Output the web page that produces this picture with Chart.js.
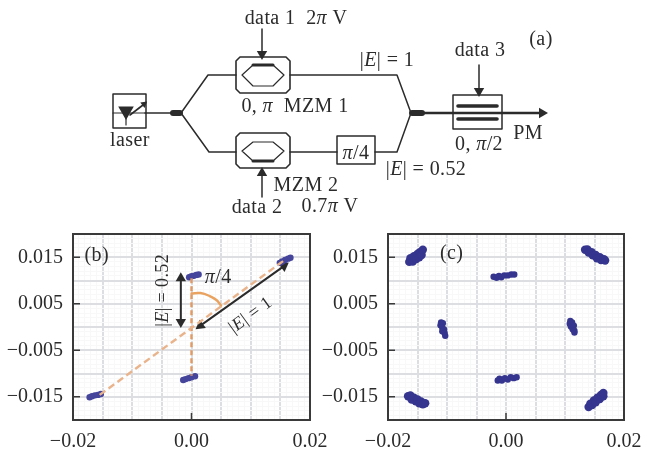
<!DOCTYPE html>
<html>
<head>
<meta charset="utf-8">
<script src="https://cdn.jsdelivr.net/npm/chart.js@4"></script>
<style>
  html, body { margin: 0; background: #fff; }
  canvas { position: absolute; filter: blur(0.55px); }
  #js-schematic { left: 0; top: 0; }
  #js-panel-b { left: 0; top: 225px; }
  #js-panel-c { left: 320px; top: 225px; }
</style>
</head>
<body>
<canvas id="js-schematic" width="647" height="225"></canvas>
<canvas id="js-panel-b" width="330" height="227"></canvas>
<canvas id="js-panel-c" width="327" height="227"></canvas>
<script>
// Tick labels
const xTickValues = [-0.02, 0, 0.02];
const xTickLabels = ['\u22120.02', '0.00', '0.02'];
const yTickValues = [-0.015, -0.005, 0.005, 0.015];
const yTickLabels = ['\u22120.015', '\u22120.005', '0.005', '0.015'];

// Constellation (b)
const panelBPoints = [
  [-.0172,-.0151],[-.0168,-.0149],[-.0163,-.0147],[-.0158,-.0146],[-.0153,-.0144],
  [-.0014,-.0114],[-.0010,-.0112],[-.0005,-.0110],[.0000,-.0108],[.0006,-.0106],
  [-.0004,.0107],[.0000,.0109],[.0004,.0110],[.0008,.0112],[.0012,.0113],
  [.0149,.0138],[.0153,.0141],[.0158,.0144],[.0163,.0147],[.0167,.0149]
];
const diagonalGuide = [[-.0155,-.0146],[.0155,.0142]];
const verticalGuide = [[0,.0105],[0,-.0105]];
const angleArc = [[0,.0072],[.0015,.0073],[.003,.0067],[.0042,.0058],[.005,.0046]];
const amplitudeArrow = [[-.0018,.0105],[-.0018,.0011]];
const unitArrow = [[.0015,.0003],[.0156,.0131]];

// Constellation (c), the four corner groups are the larger ones
const panelCCorners = [
  [-.0164,.0140],[-.0162,.0148],[-.0158,.0141],[-.0156,.0152],[-.0152,.0146],[-.0150,.0157],
  [-.0147,.0150],[-.0146,.0161],[-.0143,.0155],[-.0141,.0166],
  [.0134,.0166],[.0138,.0167],[.0140,.0160],[.0145,.0161],[.0147,.0154],[.0152,.0155],
  [.0154,.0148],[.0159,.0150],[.0161,.0144],[.0166,.0146],[.0168,.0143],
  [-.0166,-.0149],[-.0162,-.0147],[-.0160,-.0156],[-.0156,-.0152],[-.0153,-.0160],[-.0150,-.0156],
  [-.0147,-.0164],[-.0144,-.0160],[-.0141,-.0166],[-.0137,-.0164],
  [.0140,-.0172],[.0143,-.0165],[.0146,-.0168],[.0149,-.0158],[.0152,-.0162],[.0155,-.0152],
  [.0159,-.0155],[.0161,-.0146],[.0165,-.0149],[.0165,-.0142]
];
const panelCInner = [
  [-.0021,.0108],[-.0016,.0106],[-.0012,.0110],[-.0008,.0107],[-.0003,.0111],[.0003,.0111],[.0009,.0113],[.0014,.0113],
  [-.0110,.0010],[-.0111,.0004],[-.0107,.0008],[-.0108,-.0001],[-.0105,-.0005],[-.0108,-.0009],[-.0104,-.0013],[-.0103,-.0019],
  [.0109,.0013],[.0108,.0007],[.0112,.0010],[.0110,.0001],[.0115,.0003],[.0113,-.0005],[.0116,-.0008],[.0116,-.0012],
  [-.0014,-.0115],[-.0011,-.0111],[-.0007,-.0115],[-.0002,-.0110],[.0003,-.0113],[.0008,-.0108],[.0013,-.0110],[.0018,-.0108]
];

// Schematic, in diagram units
const inputFibre = [[145,113],[172,113]];
const upperArmIn = [[181,113],[208,75],[236,75]];
const lowerArmIn = [[181,113],[209,152],[236,152]];
const upperArmOut = [[290,75],[397,75],[411,113]];
const lowerArmOut = [[290,152],[337,152]];
const phaseArmOut = [[375,152],[397,152],[411,113]];
const outputFibre = [[422,113],[540,113]];
const couplerIn = [[173,113],[180,113]];
const couplerOut = [[412,113],[422,113]];
const mzmUpperBox = [[240,57],[286,57],[290,61],[290,89],[286,93],[240,93],[236,89],[236,61],[240,57]];
const mzmLowerBox = [[240,133],[286,133],[290,137],[290,164],[286,168],[240,168],[236,164],[236,137],[240,133]];
const mzmUpperPath = [[242,75],[253,65],[273,65],[284,75],[273,86],[253,86],[242,75]];
const mzmLowerPath = [[242,151],[253,142],[273,142],[284,151],[273,161],[253,161],[242,151]];
const mzmUpperBar = [[253,65],[273,65]];
const mzmLowerBar = [[253,161],[273,161]];
const phaseBox = [[337,136],[375,136],[375,164],[337,164],[337,136]];
const pmBox = [[453,95],[502,95],[502,129],[453,129],[453,95]];
const pmBarTop = [[458,106],[497,106]];
const pmBarBottom = [[458,119],[497,119]];
const laserBox = [[113,94],[146,94],[146,128],[113,128],[113,94]];
const laserBar = [[113,113],[146,113]];
const laserStem = [[126,113],[126,125]];
const laserBeam = [[130,115],[143,105]];
const data1Arrow = [[262,29],[262,52]];
const data2Arrow = [[262,197],[262,175]];
const data3Arrow = [[479,65],[479,89]];

const ink = '#2b2b2b';
const serif = '"Liberation Serif", serif';

function toXY(list) {
  return list.map(p => ({x: p[0], y: p[1]}));
}

function lineSet(list, width, color, dash) {
  return {
    type: 'line', data: toXY(list), borderColor: color || ink, borderWidth: width,
    borderDash: dash || [], pointRadius: 0, borderJoinStyle: 'round', borderCapStyle: dash ? 'butt' : 'round',
    tension: 0, clip: false
  };
}

function headSet(list, rotation, radius) {
  return {
    type: 'scatter', data: toXY(list), pointStyle: 'triangle', pointRadius: radius || 6,
    pointRotation: rotation, backgroundColor: ink, borderWidth: 0, clip: false
  };
}

// Text with E and pi set in italics, as in the original
function drawLabel(ctx, text, x, y, size, angle) {
  let runs = text.split(/([E\u03c0])/).filter(r => r !== '');
  let fontOf = r => ((r === 'E' || r === '\u03c0') ? 'italic ' : '') + size + 'px ' + serif;
  ctx.save();
  ctx.letterSpacing = '0.4px';
  let total = 0;
  runs.forEach(r => { ctx.font = fontOf(r); total += ctx.measureText(r).width; });
  ctx.translate(x, y);
  ctx.rotate((angle || 0) * Math.PI / 180);
  ctx.textBaseline = 'middle';
  ctx.textAlign = 'left';
  ctx.fillStyle = ink;
  let pos = -total / 2;
  runs.forEach(r => {
    ctx.font = fontOf(r);
    ctx.fillText(r, pos, 0);
    pos += ctx.measureText(r).width;
  });
  ctx.restore();
}

function labelPlugin(labels) {
  return {
    id: 'labels',
    afterDatasetsDraw(chart) {
      let sx = chart.scales.x, sy = chart.scales.y;
      labels.forEach(l => drawLabel(chart.ctx, l[0], sx.getPixelForValue(l[1]), sy.getPixelForValue(l[2]), l[3] || 20, l[4]));
    }
  };
}

// Frame and inward ticks
const framePlugin = {
  id: 'frame',
  afterDatasetsDraw(chart) {
    let a = chart.chartArea, ctx = chart.ctx;
    ctx.save();
    ctx.strokeStyle = '#3a3a3a';
    ctx.lineWidth = 2;
    ctx.strokeRect(a.left, a.top, a.right - a.left, a.bottom - a.top);
    ctx.lineWidth = 1.5;
    ctx.beginPath();
    yTickValues.forEach(v => {
      let py = chart.scales.y.getPixelForValue(v);
      ctx.moveTo(a.left, py);
      ctx.lineTo(a.left + 7, py);
    });
    xTickValues.forEach(v => {
      let px = chart.scales.x.getPixelForValue(v);
      ctx.moveTo(px, a.bottom);
      ctx.lineTo(px, a.bottom - 7);
    });
    ctx.stroke();
    ctx.restore();
  }
};

function isMajor(ctx) {
  return Math.round(ctx.tick.value * 1000) % 5 === 0;
}

function noOverflow(s) {
  s.paddingLeft = s.paddingRight = s.paddingTop = s.paddingBottom = 0;
}

function panelOptions(yWidth, rightPad) {
  let axis = (values, labels) => ({
    type: 'linear', min: -0.02, max: 0.02,
    grid: {color: ctx => (isMajor(ctx) ? '#dddee1' : '#f8f8f9'), lineWidth: ctx => (isMajor(ctx) ? 2 : 1), drawTicks: false},
    border: {display: false},
    afterBuildTicks(scale) {
      let list = [];
      for (let i = -20; i <= 20; i++) list.push({value: i / 1000});
      scale.ticks = list;
    },
    ticks: {
      autoSkip: false, maxRotation: 0, color: ink, padding: 10,
      font: {family: serif, size: 20},
      callback(v) {
        let i = values.findIndex(t => Math.abs(t - v) < 1e-6);
        return i < 0 ? '' : labels[i];
      }
    }
  });
  let x = axis(xTickValues, xTickLabels);
  let y = axis(yTickValues, yTickLabels);
  y.afterFit = s => { s.width = yWidth; noOverflow(s); };
  x.afterFit = s => { s.height = 32; noOverflow(s); };
  return {
    responsive: false, animation: false, devicePixelRatio: 1,
    layout: {autoPadding: false, padding: {top: 9, right: rightPad, left: 0, bottom: 0}},
    plugins: {legend: {display: false}, tooltip: {enabled: false}},
    scales: {x: x, y: y}
  };
}

function blobSet(list, color, radius) {
  return {type: 'scatter', data: toXY(list), pointRadius: radius, backgroundColor: color, borderWidth: 0};
}

// Schematic
new Chart(document.getElementById('js-schematic'), {
  type: 'line',
  data: {
    datasets: [
      lineSet(inputFibre, 1.5), lineSet(upperArmIn, 1.5), lineSet(lowerArmIn, 1.5),
      lineSet(upperArmOut, 1.5), lineSet(lowerArmOut, 1.5), lineSet(phaseArmOut, 1.5),
      lineSet(outputFibre, 2.6), lineSet(couplerIn, 6), lineSet(couplerOut, 6),
      lineSet(mzmUpperBox, 1.6), lineSet(mzmLowerBox, 1.6), lineSet(mzmUpperPath, 1.2), lineSet(mzmLowerPath, 1.2),
      lineSet(mzmUpperBar, 3), lineSet(mzmLowerBar, 3),
      lineSet(phaseBox, 1.5), lineSet(pmBox, 1.5), lineSet(pmBarTop, 3.6), lineSet(pmBarBottom, 3.6),
      lineSet(laserBox, 1.5), lineSet(laserBar, 1.2), lineSet(laserStem, 1.2), lineSet(laserBeam, 1.6),
      lineSet(data1Arrow, 1.5), lineSet(data2Arrow, 1.5), lineSet(data3Arrow, 1.5),
      headSet([[262, 54]], 180), headSet([[262, 173]], 0), headSet([[479, 91]], 180),
      headSet([[542, 113]], 90), headSet([[126, 111]], 180, 9), headSet([[144, 104]], 52, 4)
    ]
  },
  options: {
    responsive: false, animation: false, devicePixelRatio: 1,
    layout: {autoPadding: false},
    plugins: {legend: {display: false}, tooltip: {enabled: false}},
    scales: {
      x: {type: 'linear', display: false, min: 0, max: 647},
      y: {type: 'linear', display: false, min: 0, max: 225, reverse: true}
    }
  },
  plugins: [labelPlugin([
    ['data 1  2\u03c0 V', 296, 19], ['(a)', 541, 40], ['data 3', 480, 51], ['|E| = 1', 387, 61],
    ['0, \u03c0  MZM 1', 295, 107], ['laser', 130, 141], ['PM', 528, 134], ['0, \u03c0/2', 479, 145],
    ['\u03c0/4', 356, 154], ['|E| = 0.52', 426, 170], ['MZM 2', 306, 186], ['data 2', 257, 208], ['0.7\u03c0 V', 330, 207]
  ])]
});

// Panel (b)
new Chart(document.getElementById('js-panel-b'), {
  type: 'scatter',
  data: {
    datasets: [
      lineSet(diagonalGuide, 2.4, '#e9b48c', [7, 4]),
      lineSet(verticalGuide, 2.4, '#df9a66', [5, 3]),
      Object.assign(lineSet(angleArc, 2.4, '#e9a25f'), {tension: 0.4}),
      blobSet(panelBPoints, '#45459c', 3.2),
      lineSet(amplitudeArrow, 2), lineSet(unitArrow, 2),
      headSet([amplitudeArrow[0]], 0, 6), headSet([amplitudeArrow[1]], 180, 6),
      headSet([unitArrow[0]], 234, 6), headSet([unitArrow[1]], 54, 6)
    ]
  },
  options: panelOptions(73, 20),
  plugins: [framePlugin, labelPlugin([
    ['(b)', -0.0160, 0.0153], ['\u03c0/4', 0.0045, 0.0105],
    ['|E| = 0.52', -0.0047, 0.0079, 18, -90], ['|E| = 1', 0.0100, 0.0025, 18, -36]
  ])]
});

// Panel (c)
new Chart(document.getElementById('js-panel-c'), {
  type: 'scatter',
  data: {datasets: [blobSet(panelCCorners, '#35358f', 4.2), blobSet(panelCInner, '#35358f', 3.2)]},
  options: panelOptions(68, 23),
  plugins: [framePlugin, labelPlugin([['(c)', -0.0092, 0.0158]])]
});
</script>
</body>
</html>
